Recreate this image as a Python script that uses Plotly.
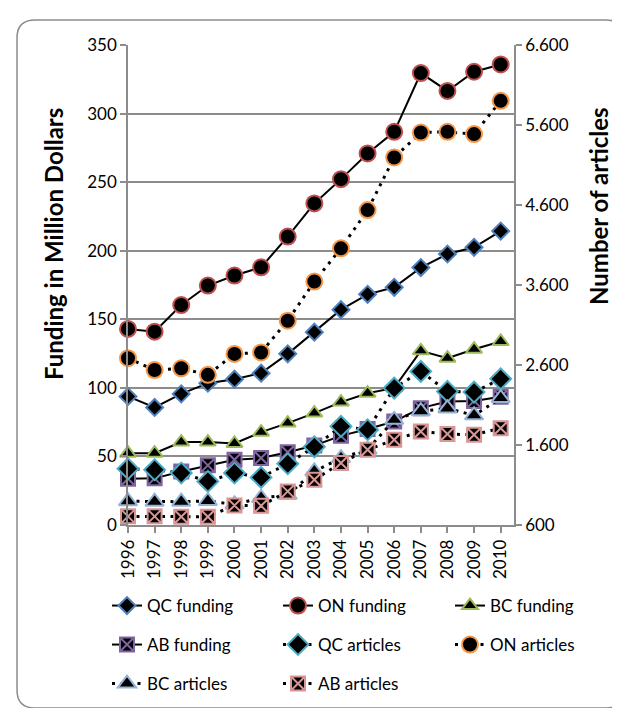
import plotly.graph_objects as go

years = list(range(1996, 2011))

# funding, million dollars (left axis)
qc_funding = [93.7, 85.7, 95.6, 103.4, 106.3, 110.7, 124.8, 140.6, 157, 168.2, 173.3, 187.7, 197.6, 202.5, 214.3]
on_funding = [143, 141, 160.4, 174.6, 181.9, 187.9, 210.3, 234.5, 252.2, 270.9, 286.7, 329.5, 316.5, 330.5, 335.8]
bc_funding = [52.4, 52.4, 60.5, 60.5, 59.5, 67.7, 74.3, 81.6, 89.6, 96.1, 100, 127, 121.6, 128.2, 133.8]
ab_funding = [33.7, 34, 39, 43.5, 47.6, 48.8, 53, 58, 65, 70, 75.5, 85.2, 90, 90.5, 93.5]

# number of articles (right axis)
qc_articles = [1303, 1291, 1250, 1145, 1250, 1195, 1366, 1577, 1833, 1790, 2311, 2520, 2270, 2261, 2427]
on_articles = [2685, 2537, 2559, 2477, 2739, 2757, 3154, 3643, 4058, 4536, 5194, 5506, 5515, 5486, 5902]
bc_articles = [897, 891, 891, 900, 857, 938, 977, 1269, 1437, 1543, 1915, 2023, 2057, 1971, 2186]
ab_articles = [708, 708, 703, 703, 845, 840, 1020, 1166, 1375, 1541, 1665, 1769, 1737, 1728, 1810]

right_ticks = [600, 1600, 2600, 3600, 4600, 5600, 6600]
right_labels = ["600", "1.600", "2.600", "3.600", "4.600", "5.600", "6.600"]

FONT = "Lato"
GREY = "#8c8c8c"

fig = go.Figure()

# plot area in pixels: x 120..506, y 37..517
def px(xp, yp):
    return (xp - 120) / 386, (517 - yp) / 480

legends = {}

def add_series(y, name, symbol, size, color, dotted, axis, n, text_x, row_y):
    if dotted:
        line = dict(color="black", width=3, dash="3px,5.5px")
    else:
        line = dict(color="black", width=2)
    key = "legend" if n == 1 else "legend%d" % n
    fig.add_trace(go.Scatter(
        x=years, y=y, name=name, mode="lines+markers", yaxis=axis, legend=key,
        line=line, cliponaxis=False, showlegend=True,
        marker=dict(symbol=symbol, size=size, color="black",
                    line=dict(color=color, width=2))))
    lx, ly = px(text_x - 46, row_y)
    legends[key] = dict(orientation="h", xanchor="left", yanchor="middle", x=lx, y=ly,
                        font=dict(family=FONT, size=17, color="black"),
                        bgcolor="rgba(0,0,0,0)", itemclick=False, visible=True)

add_series(qc_funding, "QC funding", "diamond", 13, "#4f81bd", False, "y", 1, 145, 598)
add_series(on_funding, "ON funding", "circle", 16, "#c0504d", False, "y", 2, 316, 598)
add_series(bc_funding, "BC funding", "triangle-up", 14, "#9bbb59", False, "y", 3, 488, 598)
add_series(ab_funding, "AB funding", "square-x", 14, "#8064a2", False, "y", 4, 145, 637)
add_series(qc_articles, "QC articles", "diamond", 16, "#4bacc6", True, "y2", 5, 316, 637)
add_series(on_articles, "ON articles", "circle", 16, "#f79646", True, "y2", 6, 488, 637)
add_series(bc_articles, "BC articles", "triangle-up", 16, "#95b3d7", True, "y2", 7, 145, 676)
add_series(ab_articles, "AB articles", "square-x", 14, "#d99694", True, "y2", 8, 316, 676)

# rounded border round the whole chart
x0, y0, x1, y1, r = 9, 12, 616, 700, 18
pts = [px(x0 + r, y0), px(x1 - r, y0), px(x1, y0), px(x1, y0 + r), px(x1, y1 - r), px(x1, y1),
       px(x1 - r, y1), px(x0 + r, y1), px(x0, y1), px(x0, y1 - r), px(x0, y0 + r), px(x0, y0)]
path = "M {0[0]},{0[1]} L {1[0]},{1[1]} Q {2[0]},{2[1]} {3[0]},{3[1]} L {4[0]},{4[1]} Q {5[0]},{5[1]} {6[0]},{6[1]} " \
       "L {7[0]},{7[1]} Q {8[0]},{8[1]} {9[0]},{9[1]} L {10[0]},{10[1]} Q {11[0]},{11[1]} {0[0]},{0[1]} Z".format(*pts)
fig.add_shape(type="path", path=path, xref="paper", yref="paper",
              line=dict(color=GREY, width=1.5), layer="below")

# axis titles
tx, ty = px(45, 236)
fig.add_annotation(text="<b>Funding in Million Dollars</b>", x=tx, y=ty, xref="paper", yref="paper",
                   textangle=-90, showarrow=False, xanchor="center", yanchor="middle",
                   font=dict(family=FONT, size=24, color="black"))
tx, ty = px(590, 198)
fig.add_annotation(text="<b>Number of articles</b>", x=tx, y=ty, xref="paper", yref="paper",
                   textangle=-90, showarrow=False, xanchor="center", yanchor="middle",
                   font=dict(family=FONT, size=24, color="black"))

fig.update_layout(
    width=620, height=708, showlegend=True,
    margin=dict(l=120, r=114, t=37, b=191),
    paper_bgcolor="white", plot_bgcolor="white",
    font=dict(family=FONT, size=17, color="black"),
    xaxis=dict(range=[1996, 2010.5], tickmode="array", tickvals=years, ticktext=[str(v) for v in years],
               tickangle=-90, ticks="outside", ticklen=6, tickcolor=GREY, tickwidth=1.5,
               showline=True, linecolor=GREY, linewidth=1.5, showgrid=False, zeroline=False,
               tickfont=dict(family=FONT, size=17)),
    yaxis=dict(range=[0, 350], dtick=50, ticks="outside", ticklen=6, tickcolor=GREY, tickwidth=1.5,
               showline=True, linecolor=GREY, linewidth=1.5, showgrid=True, gridcolor=GREY, gridwidth=1.5,
               zeroline=False, tickfont=dict(family=FONT, size=17)),
    yaxis2=dict(range=[600, 6600], overlaying="y", side="right", tickmode="array",
                tickvals=right_ticks, ticktext=right_labels, ticks="outside", ticklen=6,
                tickcolor=GREY, tickwidth=1.5, showline=True, linecolor=GREY, linewidth=1.5,
                showgrid=False, zeroline=False, tickfont=dict(family=FONT, size=17)),
    **legends
)

fig.write_html("out.html")
